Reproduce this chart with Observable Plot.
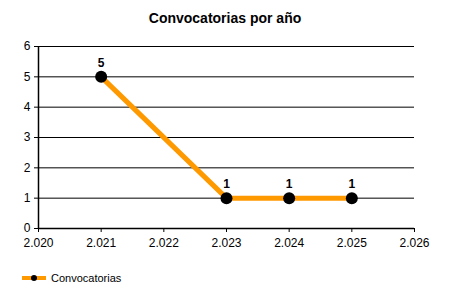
<!DOCTYPE html>
<html><head><meta charset="utf-8">
<script src="https://cdn.jsdelivr.net/npm/d3@7"></script>
<script src="https://cdn.jsdelivr.net/npm/@observablehq/plot@0.6"></script>
<style>
body{margin:0;background:#fff;font-family:"Liberation Sans",Arial,sans-serif;}
#title{height:22px;padding-top:8px;line-height:20px;text-align:center;font-weight:bold;font-size:14px;color:#000;width:450px;}
#legend{display:flex;align-items:center;margin-left:21px;margin-top:12px;font-size:11px;color:#000;}
</style></head>
<body>
<div id="title">Convocatorias por año</div>
<div id="chart"></div>
<div id="legend"></div>
<script>
const years = [2021, 2023, 2024, 2025];
const values = [5, 1, 1, 1];
const xTicks = [2020, 2021, 2022, 2023, 2024, 2025, 2026];
const yTicks = [0, 1, 2, 3, 4, 5, 6];
const seriesName = "Convocatorias";
const orange = "#FF9900";

const data = years.map((y, i) => ({year: y, value: values[i]}));
const fmt = d3.formatLocale({decimal: ",", thousands: ".", grouping: [3], currency: ["", ""]}).format(",");
const yfmt = d => String(d);

const chart = Plot.plot({
  width: 450,
  height: 230,
  marginTop: 16,
  marginBottom: 32,
  marginLeft: 38,
  marginRight: 36,
  style: {fontFamily: "Liberation Sans, Arial, sans-serif", fontSize: "12px", color: "#000", background: "#fff"},
  x: {domain: [2020, 2026], ticks: xTicks, tickFormat: fmt, tickSize: 4, label: null},
  y: {domain: [0, 6], ticks: yTicks, tickFormat: yfmt, tickSize: 4, label: null},
  marks: [
    Plot.gridY(yTicks, {stroke: "#000", strokeOpacity: 1, strokeWidth: 1}),
    Plot.axisX({ticks: xTicks, tickFormat: fmt, tickSize: 4, tickPadding: 6, fontSize: 12, stroke: "#000"}),
    Plot.axisY({ticks: yTicks, tickFormat: yfmt, tickSize: 4, tickPadding: 4, fontSize: 12, stroke: "#000"}),
    Plot.ruleX([2020], {stroke: "#000", strokeWidth: 1.5}),
    Plot.ruleY([0], {stroke: "#000", strokeWidth: 1.5}),
    Plot.line(data, {x: "year", y: "value", stroke: orange, strokeWidth: 5}),
    Plot.dot(data, {x: "year", y: "value", r: 6, fill: "#000", stroke: "none"}),
    Plot.text(data, {x: "year", y: "value", text: d => String(d.value), dy: -14, fontWeight: "bold", fontSize: 12, fill: "#000"})
  ]
});
document.getElementById("chart").appendChild(chart);

// legend
const leg = document.getElementById("legend");
leg.innerHTML = `<svg width="26" height="10" style="margin-right:4px"><line x1="1" x2="25" y1="5" y2="5" stroke="${orange}" stroke-width="4"/><circle cx="13" cy="5" r="3" fill="#000"/></svg><span>${seriesName}</span>`;
</script>
</body></html>
